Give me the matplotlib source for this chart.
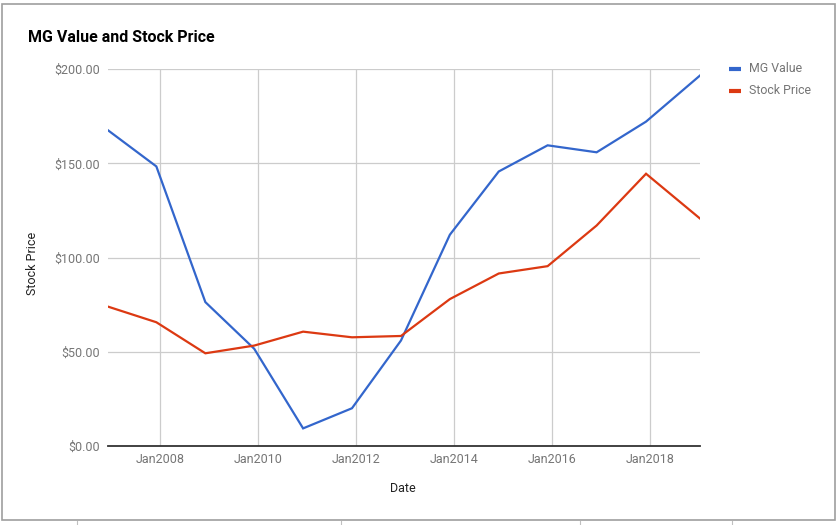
import matplotlib
matplotlib.use("Agg")
import matplotlib.pyplot as plt
import matplotlib.dates as mdates
import matplotlib.ticker as mticker
from matplotlib.lines import Line2D
import numpy as np
import datetime as dt

dates = ["2006-12-05", "2007-12-01", "2008-12-01", "2009-12-01", "2010-12-01",
         "2011-12-01", "2012-12-01", "2013-12-01", "2014-12-01", "2015-12-01",
         "2016-12-01", "2017-12-05", "2019-01-12"]
mg_value = [167.6, 148.4, 76.3, 51.5, 9.2, 19.9, 55.9, 112.1, 145.7, 159.6, 155.9, 172.2, 196.7]
stock_price = [73.9, 65.6, 49.1, 53.2, 60.6, 57.6, 58.3, 77.9, 91.5, 95.4, 117.0, 144.5, 120.7]
tick_years = [2008, 2010, 2012, 2014, 2016, 2018]
y_ticks = [0, 50, 100, 150, 200]

x = [dt.datetime.strptime(d, "%Y-%m-%d") for d in dates]

W, H = 838, 525
fig = plt.figure(figsize=(W / 100, H / 100), dpi=100)
ax = fig.add_axes([108 / W, 1 - 445.7 / H, (700 - 108) / W, (445.7 - 69.3) / H])

blue = "#3366cc"
red = "#dc3912"
ax.plot(x, mg_value, color=blue, lw=1.6, solid_joinstyle="miter", zorder=3)
ax.plot(x, stock_price, color=red, lw=1.6, solid_joinstyle="miter", zorder=3)

ax.set_xlim(x[0], x[-1])
ax.set_ylim(0, 200)
ax.set_yticks(y_ticks)
ax.yaxis.set_major_formatter(mticker.FuncFormatter(lambda v, p: f"${v:,.2f}"))
ax.set_xticks([dt.datetime(y, 1, 1) for y in tick_years])
ax.xaxis.set_major_formatter(mdates.DateFormatter("Jan%Y"))

ax.grid(True, color="#cccccc", lw=0.9, zorder=0)
for s in ["top", "right", "left"]:
    ax.spines[s].set_visible(False)
ax.spines["bottom"].set_color("#333333")
ax.spines["bottom"].set_linewidth(1.3)
ax.spines["bottom"].set_zorder(4)
ax.tick_params(axis="both", length=0, labelsize=9, labelcolor="#757575")
ax.tick_params(axis="y", pad=5.8)
ax.tick_params(axis="x", pad=5)
for lab in ax.get_xticklabels() + ax.get_yticklabels():
    lab.set_family("Roboto")

fig.text(28 / W, 1 - 38 / H, "MG Value and Stock Price", family="Roboto",
         fontweight="bold", fontsize=11.5, color="#000000", va="center", ha="left")
fig.text(33 / W, 1 - 263 / H, "Stock Price", family="Roboto", fontsize=9,
         color="#222222", rotation=90, va="center", ha="center")
fig.text(403 / W, 1 - 488 / H, "Date", family="Roboto", fontsize=9,
         color="#222222", va="center", ha="center")

# legend
for i, (name, col) in enumerate([("MG Value", blue), ("Stock Price", red)]):
    yy = 1 - (69 + 22 * i) / H
    fig.add_artist(Line2D([729 / W, 741 / W], [yy, yy], color=col, lw=3,
                          solid_capstyle="butt", transform=fig.transFigure))
    fig.text(749 / W, yy, name, family="Roboto", fontsize=8.9, color="#757575",
             va="center", ha="left")

# outer frame
fig.add_artist(plt.Rectangle((1.5 / W, 1 - 519.5 / H), (835 - 1.5) / W, (519.5 - 3.5) / H,
                             fill=False, ec="#9e9e9e", lw=1.2, transform=fig.transFigure))
for xx in [77, 341, 580, 732]:
    fig.add_artist(Line2D([xx / W, xx / W], [0, 4 / H], color="#c0c0c0", lw=0.8,
                          transform=fig.transFigure))

fig.savefig("out.png", dpi=100, facecolor="white")
